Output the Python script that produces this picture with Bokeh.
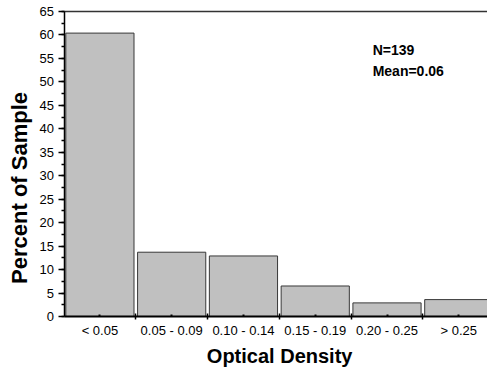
import math
from bokeh.plotting import figure
from bokeh.models import (FixedTicker, SingleIntervalTicker, Label, ColumnDataSource,
                          LinearAxis, Range1d)
from bokeh.embed import file_html
from bokeh.resources import INLINE

categories = ["< 0.05", "0.05 - 0.09", "0.10 - 0.14", "0.15 - 0.19", "0.20 - 0.25", "> 0.25"]
percent = [60.4, 13.7, 12.9, 6.5, 2.9, 3.6]
n_label = "N=139"
mean_label = "Mean=0.06"
x_title = "Optical Density"
y_title = "Percent of Sample"
y_max = 65

FONT = "Liberation Sans"

centers = [i + 0.5 for i in range(len(categories))]
bounds = [i for i in range(1, len(categories))]

src = ColumnDataSource(dict(x=centers, top=percent, cat=categories))

p = figure(width=487, height=369,
           x_range=Range1d(-0.885, 5.9), y_range=Range1d(-11.3, 67.35),
           output_backend="svg", toolbar_location=None,
           x_axis_location=None, y_axis_location=None,
           min_border_left=0, min_border_right=0, min_border_top=0, min_border_bottom=0)
p.outline_line_color = None
p.grid.visible = False
p.background_fill_color = "white"
p.border_fill_color = "white"

p.vbar(x="x", top="top", width=0.95, bottom=0, source=src,
       fill_color="#c0c0c0", line_color="#383838", line_width=1)

# x axis (fixed at y = 0)
xa = LinearAxis(fixed_location=0, bounds=(0, len(categories)))
xa.ticker = FixedTicker(ticks=centers, minor_ticks=bounds)
xa.major_label_overrides = {c: lab for c, lab in zip(centers, categories)}
xa.major_tick_in = 2
xa.major_tick_out = 0
xa.minor_tick_in = 3
xa.minor_tick_out = 3
xa.axis_line_width = 2
xa.axis_line_color = "black"
xa.major_tick_line_color = "black"
xa.minor_tick_line_color = "black"
xa.major_tick_line_width = 2
xa.minor_tick_line_width = 1.5
xa.major_label_standoff = 4
xa.major_label_text_font = FONT
xa.major_label_text_font_size = "13px"
xa.major_label_text_color = "black"
p.add_layout(xa, "below")

# y axis (fixed at x = 0)
ya = LinearAxis(fixed_location=0, bounds=(0, y_max))
ya.ticker = SingleIntervalTicker(interval=5, num_minor_ticks=2)
ya.major_tick_in = 0
ya.major_tick_out = 6
ya.minor_tick_in = 0
ya.minor_tick_out = 3
ya.axis_line_width = 1.5
ya.axis_line_color = "black"
ya.major_tick_line_color = "black"
ya.minor_tick_line_color = "black"
ya.major_tick_line_width = 1.5
ya.minor_tick_line_width = 1.5
ya.major_label_standoff = 4
ya.major_label_text_font = FONT
ya.major_label_text_font_size = "13px"
ya.major_label_text_color = "black"
p.add_layout(ya, "left")

# top frame line (axis without ticks)
ta = LinearAxis(fixed_location=y_max, bounds=(0, len(categories)))
ta.ticker = FixedTicker(ticks=[])
ta.major_label_text_font_size = "0px"
ta.major_tick_line_color = None
ta.minor_tick_line_color = None
ta.axis_line_color = "#333333"
ta.axis_line_width = 1.5
p.add_layout(ta, "above")

# axis titles
p.add_layout(Label(x=3.004, y=-8.4, text=x_title, text_align="center",
                   text_baseline="alphabetic", text_font=FONT,
                   text_font_size="20px", text_font_style="bold", text_color="black"))
p.add_layout(Label(x=-0.624, y=27.4, text=y_title, angle=math.pi / 2,
                   text_align="center", text_baseline="middle", text_font=FONT,
                   text_font_size="22px", text_font_style="bold", text_color="black"))

# annotations
p.add_layout(Label(x=4.30, y=56.9, text=n_label, text_align="left",
                   text_baseline="alphabetic", text_font=FONT,
                   text_font_size="14px", text_font_style="bold", text_color="black"))
p.add_layout(Label(x=4.30, y=52.3, text=mean_label, text_align="left",
                   text_baseline="alphabetic", text_font=FONT,
                   text_font_size="14px", text_font_style="bold", text_color="black"))

open("out.html", "w").write(file_html(p, INLINE))
